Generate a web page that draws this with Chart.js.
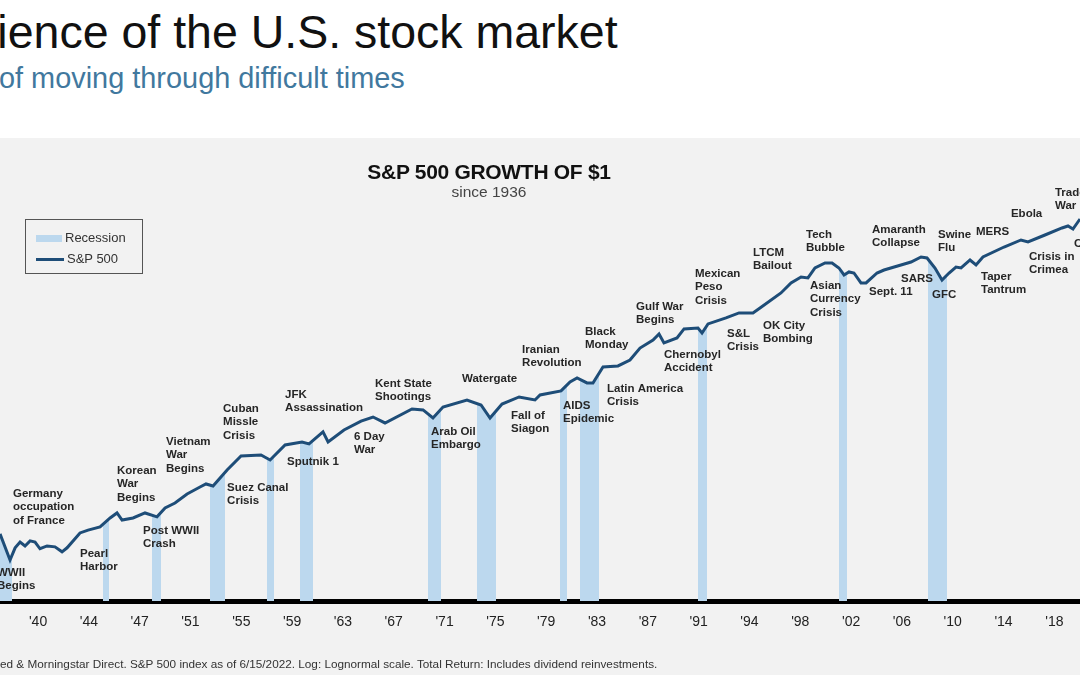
<!DOCTYPE html>
<html>
<head>
<meta charset="utf-8">
<title>Resilience of the U.S. stock market</title>
<script src="https://cdn.jsdelivr.net/npm/chart.js@4.4.0/dist/chart.umd.min.js"></script>
<style>
  html, body { margin: 0; padding: 0; }
  body { width: 1080px; height: 675px; position: relative; overflow: hidden; background: #fff; font-family: "Liberation Sans", Arial, sans-serif; }
  #panel { position: absolute; left: 0; top: 138px; width: 1080px; height: 537px; background: #f2f2f2; }
  #title { position: absolute; left: -106px; top: 9px; font-size: 46.5px; line-height: 46px; color: #111; white-space: nowrap; }
  #subtitle { position: absolute; left: -1px; top: 63px; font-size: 28.9px; line-height: 30px; color: #41789e; white-space: nowrap; }
  #chartTitle { position: absolute; left: 289px; width: 400px; top: 160px; text-align: center; font-weight: bold; font-size: 21px; line-height: 24px; color: #111; letter-spacing: -0.3px; }
  #chartSub { position: absolute; left: 289px; width: 400px; top: 183px; text-align: center; font-size: 15.5px; line-height: 18px; color: #444; }
  #legend { position: absolute; left: 25px; top: 219px; width: 116px; height: 53px; border: 1.5px solid #555; }
  .item { position: absolute; left: 10px; font-size: 13px; line-height: 15px; color: #333; white-space: nowrap; }
  .sw { display: inline-block; vertical-align: middle; margin-right: 3px; }
  #footer { position: absolute; left: 0; top: 657px; font-family: "Liberation Sans Narrow", "Liberation Sans", Arial, sans-serif; font-size: 11.75px; line-height: 14px; color: #333; white-space: nowrap; }
  #chart { position: absolute; left: 0; top: 138px; }
</style>
</head>
<body>
<div id="panel"></div>
<div id="title">Resilience of the U.S. stock market</div>
<div id="subtitle">of moving through difficult times</div>
<canvas id="chart" width="1080" height="537"></canvas>
<div id="chartTitle">S&amp;P 500 GROWTH OF $1</div>
<div id="chartSub">since 1936</div>
<div id="legend">
  <div class="item" style="top:10px"><span class="sw" style="width:26px;height:7px;background:#bcd8ee"></span>Recession</div>
  <div class="item" style="top:31px"><span class="sw" style="width:28px;height:3.5px;background:#1e4d78"></span>S&amp;P 500</div>
</div>
<div id="footer">ed &amp; Morningstar Direct. S&amp;P 500 index as of 6/15/2022. Log: Lognormal scale. Total Return: Includes dividend reinvestments.</div>

<script>
// S&P 500 growth of $1 (log scale)
const years = [1937.08, 1937.85, 1938.24, 1938.62, 1939.00, 1939.39, 1939.77, 1940.15, 1940.69, 1941.30,
  1941.84, 1942.23, 1943.22, 1943.84, 1944.76, 1945.53, 1946.06, 1946.45, 1947.29, 1948.21,
  1949.13, 1949.75, 1950.51, 1951.44, 1952.43, 1952.89, 1953.43, 1954.51, 1955.58, 1957.11,
  1957.81, 1958.96, 1960.26, 1960.80, 1961.87, 1962.26, 1963.48, 1964.79, 1965.71, 1966.63,
  1968.70, 1969.55, 1970.31, 1971.08, 1972.92, 1974.00, 1974.69, 1975.61, 1976.92, 1978.14,
  1978.53, 1980.14, 1980.83, 1981.37, 1982.13, 1982.59, 1983.36, 1984.51, 1985.43, 1986.20,
  1987.20, 1987.66, 1988.04, 1989.04, 1989.58, 1990.65, 1990.96, 1991.42, 1992.80, 1993.80,
  1994.87, 1995.41, 1997.02, 1997.79, 1998.56, 1999.09, 1999.63, 2000.40, 2000.94, 2001.47,
  2001.86, 2002.24, 2002.62, 2003.16, 2003.55, 2004.39, 2004.93, 2006.23, 2007.00, 2007.77,
  2008.23, 2008.84, 2009.38, 2009.92, 2010.45, 2010.84, 2011.53, 2011.99, 2012.52, 2014.14,
  2015.44, 2015.98, 2017.28, 2018.59, 2019.05, 2019.43, 2019.97];
const values = [1.17, 0.60, 0.82, 0.95, 0.86, 0.98, 0.95, 0.80, 0.86, 0.84,
  0.74, 0.82, 1.20, 1.29, 1.40, 1.76, 2.00, 1.67, 1.76, 2.00,
  1.81, 2.27, 2.58, 3.25, 3.89, 4.20, 3.99, 6.01, 8.60, 8.82,
  7.76, 11.4, 12.3, 11.7, 15.9, 12.3, 16.7, 21.0, 23.3, 20.0,
  28.6, 27.9, 22.7, 30.1, 36.0, 31.7, 22.7, 32.5, 38.9, 36.0,
  40.9, 45.4, 57.1, 63.2, 55.7, 55.7, 83.8, 86.0, 100, 136,
  167, 195, 155, 176, 222, 227, 200, 252, 294, 334,
  334, 379, 557, 719, 838, 817, 1055, 1199, 1199, 1055,
  882, 953, 928, 719, 719, 928, 1002, 1139, 1230, 1398,
  1363, 1055, 776, 928, 1082, 1055, 1295, 1139, 1398, 1805,
  2160, 2052, 2454, 2936, 3090, 2861, 3696];

// Recession periods (start / end, in years)
const recessionStarts = [1937.08, 1944.99, 1948.75, 1953.20, 1957.57, 1960.11, 1969.93, 1973.69, 1980.06, 1981.60, 1990.65, 2001.47, 2008.30];
const recessionEnds = [1938.00, 1945.45, 1949.44, 1954.35, 1958.11, 1961.11, 1970.93, 1975.15, 1980.60, 1983.05, 1991.34, 2002.09, 2009.76];

// x axis ticks
const tickYears = [1940, 1943.9, 1947.8, 1951.7, 1955.6, 1959.5, 1963.4, 1967.3, 1971.2, 1975.1, 1979,
  1982.9, 1986.8, 1990.7, 1994.6, 1998.5, 2002.4, 2006.3, 2010.2, 2014.1, 2018];
const tickLabels = ["'40", "'44", "'47", "'51", "'55", "'59", "'63", "'67", "'71", "'75", "'79",
  "'83", "'87", "'91", "'94", "'98", "'02", "'06", "'10", "'14", "'18"];

// Event labels, anchored (top-left) at a year and a value
const eventLabels = [["WWII", "Begins"], ["Germany", "occupation", "of France"], ["Pearl", "Harbor"],
  ["Korean", "War", "Begins"], ["Post WWII", "Crash"], ["Vietnam", "War", "Begins"],
  ["Cuban", "Missle", "Crisis"], ["Suez Canal", "Crisis"], ["JFK", "Assassination"], ["Sputnik 1"],
  ["6 Day", "War"], ["Kent State", "Shootings"], ["Arab Oil", "Embargo"], ["Watergate"],
  ["Fall of", "Siagon"], ["Iranian", "Revolution"], ["AIDS", "Epidemic"], ["Black", "Monday"],
  ["Latin America", "Crisis"], ["Gulf War", "Begins"], ["Chernobyl", "Accident"],
  ["Mexican", "Peso", "Crisis"], ["S&L", "Crisis"], ["OK City", "Bombing"], ["LTCM", "Bailout"],
  ["Tech", "Bubble"], ["Asian", "Currency", "Crisis"], ["Amaranth", "Collapse"], ["Sept. 11"],
  ["SARS"], ["Swine", "Flu"], ["GFC"], ["MERS"], ["Taper", "Tantrum"], ["Ebola"],
  ["Crisis in", "Crimea"], ["Trade", "War"], ["COVID-19"]];
const eventYears = [1936.85, 1938.08, 1943.22, 1946.06, 1948.06, 1949.82, 1954.20, 1954.51, 1958.96, 1959.11,
  1964.25, 1965.86, 1970.16, 1972.54, 1976.30, 1977.15, 1980.29, 1981.98, 1983.67, 1985.89,
  1988.04, 1990.42, 1992.88, 1995.64, 1994.87, 1998.94, 1999.25, 2004.01, 2003.78, 2006.23,
  2009.07, 2008.61, 2011.99, 2012.37, 2014.67, 2016.06, 2018.05, 2019.51];
const eventValues = [0.502, 3.79, 0.817, 6.83, 1.47, 14.3, 33.4, 4.42, 47.7, 8.60,
  16.3, 63.2, 18.5, 71.9, 27.9, 151, 36.0, 239, 55.7, 454,
  133, 1055, 227, 279, 1805, 2861, 776, 3252, 666, 928,
  2861, 617, 3090, 977, 4896, 1630, 8380, 2273];

const lineColor = "#1e4d78";
const bandColor = "#bcd8ee";

// Light blue bands: area under the S&P line, clipped to each recession
const recessionBands = {
  id: "recessionBands",
  beforeDatasetsDraw(chart) {
    const ctx = chart.ctx;
    const area = chart.chartArea;
    const xs = chart.scales.x;
    const pts = chart.getDatasetMeta(0).data;
    ctx.save();
    ctx.fillStyle = bandColor;
    recessionStarts.forEach(function (start, i) {
      const x1 = xs.getPixelForValue(start);
      const x2 = xs.getPixelForValue(recessionEnds[i]);
      ctx.save();
      ctx.beginPath();
      ctx.rect(x1, area.top, x2 - x1, area.bottom - area.top);
      ctx.clip();
      ctx.beginPath();
      ctx.moveTo(pts[0].x, area.bottom);
      pts.forEach(p => ctx.lineTo(p.x, p.y));
      ctx.lineTo(pts[pts.length - 1].x, area.bottom);
      ctx.closePath();
      ctx.fill();
      ctx.restore();
    });
    ctx.restore();
  }
};

// Event annotations
const eventText = {
  id: "eventText",
  afterDatasetsDraw(chart) {
    const ctx = chart.ctx;
    const xs = chart.scales.x;
    const ys = chart.scales.y;
    ctx.save();
    ctx.font = 'bold 11.5px "Liberation Sans", Arial, sans-serif';
    ctx.fillStyle = "#262626";
    ctx.textAlign = "left";
    ctx.textBaseline = "top";
    eventLabels.forEach(function (lines, i) {
      const x = xs.getPixelForValue(eventYears[i]);
      const y = ys.getPixelForValue(eventValues[i]);
      lines.forEach((t, j) => ctx.fillText(t, x, y + j * 13.5));
    });
    ctx.restore();
  }
};

new Chart(document.getElementById("chart").getContext("2d"), {
  type: "line",
  data: {
    datasets: [{
      label: "S&P 500",
      data: years.map((yr, i) => ({ x: yr, y: values[i] })),
      borderColor: lineColor,
      borderWidth: 3,
      pointRadius: 0,
      tension: 0,
      fill: false
    }]
  },
  options: {
    responsive: false,
    animation: false,
    events: [],
    layout: { padding: { top: 12, left: 0, right: 0, bottom: 0 } },
    plugins: {
      legend: { display: false },
      tooltip: { enabled: false },
      title: { display: false }
    },
    scales: {
      x: {
        type: "linear",
        bounds: "data",
        min: 1937.08,
        max: 2019.97,
        grid: { display: false, drawTicks: false },
        border: { display: true, color: "#000", width: 5 },
        afterBuildTicks: function (scale) {
          scale.ticks = tickYears.map(v => ({ value: v }));
        },
        afterFit: function (scale) {
          scale.height = 74;
        },
        ticks: {
          autoSkip: false,
          maxRotation: 0,
          padding: 13,
          color: "#222",
          font: { family: '"Liberation Sans Narrow", "Liberation Sans", Arial, sans-serif', size: 14 },
          callback: function (value, index) { return tickLabels[index]; }
        }
      },
      y: {
        type: "logarithmic",
        display: false,
        bounds: "data",
        min: 0.2102,
        max: 21596
      }
    }
  },
  plugins: [recessionBands, eventText]
});
</script>
</body>
</html>
